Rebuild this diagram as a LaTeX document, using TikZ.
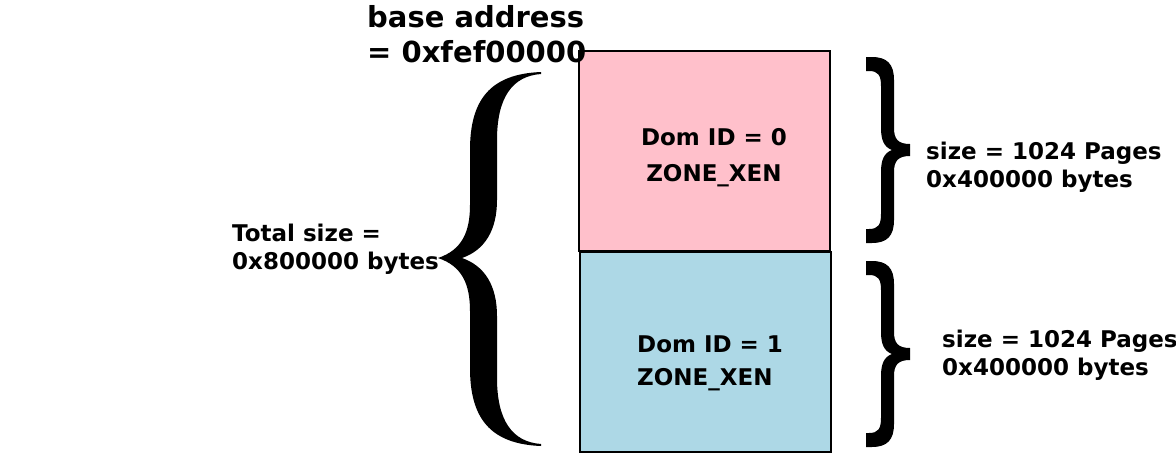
\documentclass[tikz,border=0pt]{standalone}
\usepackage{fontspec}
\setmainfont{DejaVu Sans}
\definecolor{pinkbox}{HTML}{FFC0CB}
\definecolor{bluebox}{HTML}{ADD8E6}
\begin{document}
\begin{tikzpicture}[x=1pt,y=-1pt,
  membox/.style={draw=black,line width=1.8pt,minimum width=251pt,minimum height=200pt,inner sep=0pt},
  lbl/.style={font=\fontsize{23}{28}\selectfont\bfseries,inner sep=0pt,align=left,anchor=base west},
  bracefill/.style={fill=black,draw=none},
  rbr/.pic={
    \fill[bracefill] (866,57) -- (872,57) .. controls (887,57) and (894,64) .. (894,80)
      -- (894,128) .. controls (894,139) and (898,144) .. (910,144)
      -- (910,156) .. controls (898,156) and (894,161) .. (894,172)
      -- (894,220) .. controls (894,236) and (887,243) .. (872,243)
      -- (866,243) -- (866,229) -- (869,229) .. controls (878,229) and (881,225) .. (881,214)
      -- (881,172) .. controls (881,160) and (884,153) .. (892,150)
      .. controls (884,147) and (881,140) .. (881,128)
      -- (881,86) .. controls (881,75) and (878,71) .. (869,71) -- (866,71) -- cycle;
  }]
\useasboundingbox (0,0) rectangle (1176,453);
% memory boxes
\node[membox,fill=pinkbox] (dom0) at (704.5,151) {};
\node[membox,fill=bluebox] (dom1) at (705.5,352) {};
% box labels (anchor = baseline of last line)
\node[lbl,align=center,anchor=base,font=\fontsize{23}{36}\selectfont\bfseries] (t0) at (714,181) {Dom ID = 0\\ZONE\_XEN};
\node[lbl,font=\fontsize{23}{33}\selectfont\bfseries] (t1) at (637,385) {Dom ID = 1\\ZONE\_XEN};
% title
\node[lbl,font=\fontsize{29}{35}\selectfont\bfseries] (base) at (367,62) {base address\\= 0xfef00000};
% left brace
\fill[bracefill] (438,258) .. controls (462,250) and (470,232) .. (470,205)
  -- (470,150) .. controls (470,100) and (490,74) .. (541,72)
  -- (541,74) .. controls (512,76) and (497,98) .. (497,140)
  -- (497,200) .. controls (497,230) and (485,250) .. (462,258)
  .. controls (485,266) and (497,286) .. (497,316)
  -- (497,378) .. controls (497,420) and (512,442) .. (541,444)
  -- (541,446) .. controls (490,444) and (470,418) .. (470,368)
  -- (470,311) .. controls (470,284) and (462,266) .. (438,258) -- cycle;
\node[lbl] (total) at (232,269) {Total size =\\0x800000 bytes};
% right braces
\pic (br0) at (0,0) {rbr};
\pic (br1) at (0,204) {rbr};
\node[lbl] (sz0) at (926,187) {size = 1024 Pages\\0x400000 bytes};
\node[lbl] (sz1) at (942,375) {size = 1024 Pages\\0x400000 bytes};
\end{tikzpicture}
\end{document}
